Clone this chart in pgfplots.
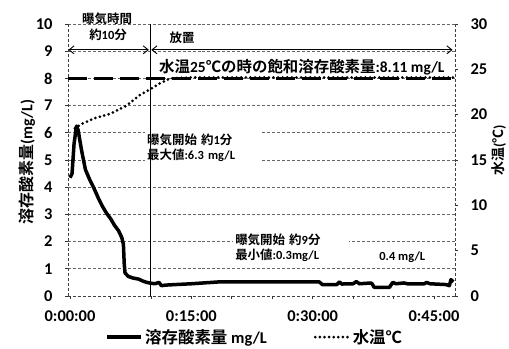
\documentclass[border=0pt]{standalone}
\usepackage{fontspec}
\setmainfont{Carlito}
\newfontfamily\jp{Noto Sans CJK JP}[BoldFont={* Bold}]
\usepackage{pgfplots}
\pgfplotsset{compat=1.18}
\usetikzlibrary{arrows.meta}
\newcommand{\J}[1]{{\jp\bfseries #1}}
\newcommand{\tickfont}{\bfseries\fontsize{16.5}{18}\selectfont}
\newcommand{\annfont}{\bfseries\fontsize{12.5}{14}\selectfont}

\begin{document}
\begin{tikzpicture}
\path[use as bounding box] (0bp,0bp) rectangle (509bp,349bp);
\begin{axis}[
  at={(68bp,53bp)}, anchor=south west,
  width=387bp, height=272bp, scale only axis,
  xmin=-0.25, xmax=47.6, ymin=0, ymax=10,
  xtick={0,15,30,45}, xticklabels={0:00:00,0:15:00,0:30:00,0:45:00},
  minor xtick={5,10,20,25,35,40},
  ytick={0,1,...,10},
  axis y line*=left, axis x line*=bottom,
  axis line style={densely dashed, black!75, line width=0.7bp, -},
  tick align=outside, major tick length=3bp, minor tick length=3bp,
  tick style={black!80, line width=0.7bp},
  ymajorgrids, major grid style={densely dashed, black!60, line width=0.7bp},
  /pgf/number format/assume math mode=true,
  ticklabel style={font=\tickfont},
  yticklabel style={xshift=-9bp},
  xticklabel style={yshift=-8bp},
  clip=false,
]
% white boxes of the annotations
\node[fill=white, anchor=west, align=left, inner sep=2bp, font=\annfont, text width=112bp] at (axis cs:9.27,5.46) {\J{曝気開始 約}1\J{分}\\[1bp]\J{最大値}:6.3 mg/L};
\node[fill=white, anchor=west, align=left, inner sep=2bp, font=\annfont, text width=112bp] at (axis cs:20.16,1.78) {\J{曝気開始 約}9\J{分}\\[1bp]\J{最小値}:0.3mg/L};
\node[anchor=west, inner sep=1bp, font=\annfont] at (axis cs:38.1,1.43) {0.4 mg/L};
\node[fill=white, anchor=west, inner sep=1bp, font=\bfseries\fontsize{15.5}{16}\selectfont] at (axis cs:10.88,8.40) {\J{水温}25\J{℃の時の飽和溶存酸素量}:8.11 mg/L};
\node[font=\annfont] at (axis cs:4.58,10.18) {\J{曝気時間}};
\node[font=\annfont] at (axis cs:4.7,9.6) {\J{約}10\J{分}};
\node[font=\annfont] at (axis cs:13.85,9.49) {\J{放置}};
% arrows
\draw[{Straight Barb[length=5bp,width=8bp]}-{Straight Barb[length=5bp,width=8bp]}, line width=0.9bp] (axis cs:-0.2,9.05) -- (axis cs:9.75,9.05);
\draw[{Straight Barb[length=5bp,width=8bp]}-{Straight Barb[length=5bp,width=8bp]}, line width=0.9bp] (axis cs:10.05,9.05) -- (axis cs:47.3,9.05);
% saturation line
\addplot[black, line width=3.4bp, dash pattern=on 19bp off 7bp] coordinates {(-0.25,8) (47.6,8)};
% dissolved oxygen
\addplot[black, line width=3.5bp, line join=round] coordinates {
(0,4.35) (0.25,4.5) (0.5,5.6) (0.8,6.25) (1.0,6.1) (1.4,5.4) (1.9,4.65) (2.4,4.3)
(2.9,4.0) (3.5,3.6) (4.0,3.3) (4.5,3.05) (5.0,2.85) (5.5,2.6) (6.0,2.4) (6.4,2.15)
(6.6,1.9) (6.7,1.2) (6.8,0.85) (7.2,0.72) (7.8,0.66) (8.5,0.62) (9.0,0.55) (9.5,0.5)
(10.0,0.47) (10.5,0.45) (11.0,0.5) (11.3,0.38) (11.8,0.4) (13,0.42) (15,0.45)
(18.5,0.52) (22,0.52) (27,0.52) (30.8,0.52) (31.2,0.42) (33,0.42) (33.3,0.52)
(33.6,0.44) (35.0,0.45) (35.4,0.53) (35.8,0.45) (36.8,0.47) (37.3,0.47) (37.6,0.32)
(39.5,0.32) (39.9,0.5) (40.3,0.45) (41.3,0.48) (41.7,0.45) (43.8,0.45) (44.1,0.5)
(44.5,0.45) (46.5,0.42) (46.9,0.38) (47.1,0.6) (47.4,0.52)};
% aeration limit line
\addplot[black, line width=1bp] coordinates {(9.9,0) (9.9,10)};
\end{axis}
\begin{axis}[
  at={(68bp,53bp)}, anchor=south west,
  width=387bp, height=272bp, scale only axis,
  xmin=-0.25, xmax=47.6, ymin=0, ymax=30,
  axis x line=none, axis y line*=right,
  ytick={0,5,...,30},
  axis line style={densely dashed, black!75, line width=0.7bp, -},
  tick align=outside, major tick length=3bp,
  tick style={black!80, line width=0.7bp},
  /pgf/number format/assume math mode=true,
  ticklabel style={font=\tickfont},
  yticklabel style={xshift=9bp},
  clip=false,
  legend style={at={(0.483,-0.151)}, anchor=center, draw=none, fill=none,
    legend columns=2, font=\bfseries\fontsize{16.5}{18}\selectfont,
    /tikz/every even column/.append style={column sep=45bp}},
  legend image code/.code={\draw[#1] (0bp,0bp) -- (34bp,0bp);},
]
\addlegendimage{black, line width=3.5bp}
\addlegendentry{\J{溶存酸素量} mg/L}
\addplot[black, line width=3bp, dash pattern=on 0bp off 4.6bp, line cap=round] coordinates {
(0.6,18.5) (1.5,19.0) (3,19.6) (5,20.1) (7,21.0) (8.7,22.2) (9.9,22.8) (11,23.4)
(12.4,24.0) (15,24.1) (20,24.1) (25,24.1) (30,24.1) (35,24.1) (40,24.1) (45,24.1) (47.5,24.1)};
\addlegendentry{\J{水温℃}}
\end{axis}
\node[rotate=90, font=\bfseries\fontsize{16}{18}\selectfont] at (27bp,187bp) {\J{溶存酸素量}(mg/L)};
\node[rotate=90, font=\bfseries\fontsize{14}{16}\selectfont] at (499bp,199bp) {\J{水温}(\J{℃})};
\end{tikzpicture}
\end{document}
